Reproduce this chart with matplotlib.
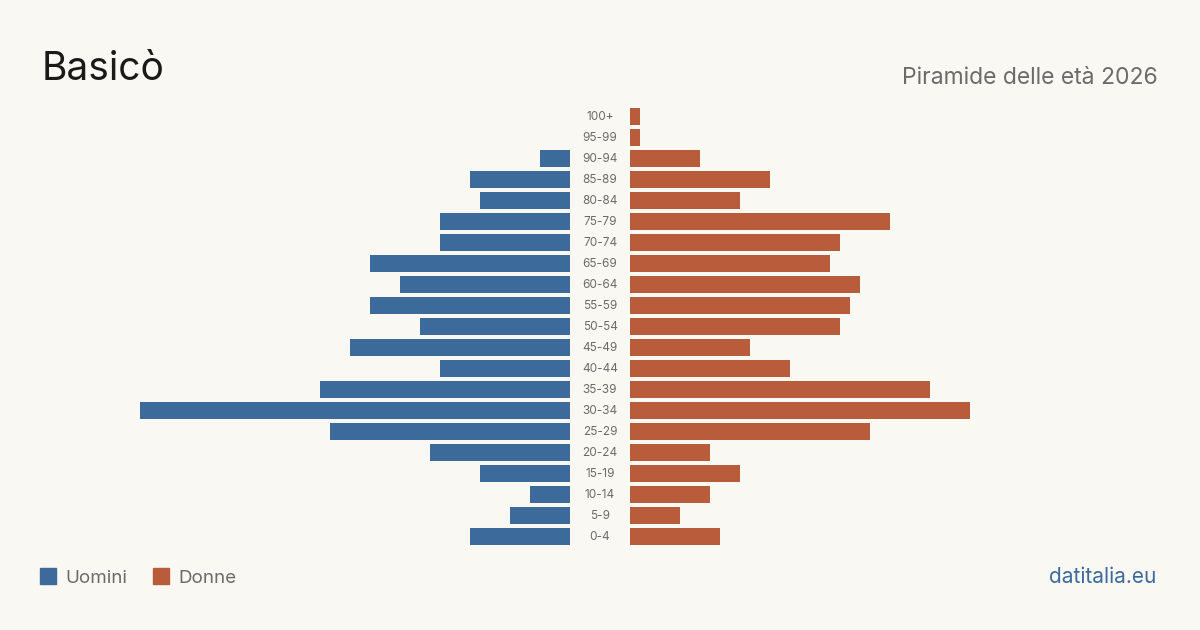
import matplotlib.pyplot as plt
from matplotlib.patches import Rectangle

plt.rcParams['font.family'] = ['Inter', 'DejaVu Sans']

age_groups = ["0-4", "5-9", "10-14", "15-19", "20-24", "25-29", "30-34", "35-39",
              "40-44", "45-49", "50-54", "55-59", "60-64", "65-69", "70-74", "75-79",
              "80-84", "85-89", "90-94", "95-99", "100+"]
men = [10, 6, 4, 9, 14, 24, 43, 25, 13, 22, 15, 20, 17, 20, 13, 13, 9, 10, 3, 0, 0]
women = [9, 5, 8, 11, 8, 24, 34, 30, 16, 12, 21, 22, 23, 20, 21, 26, 11, 14, 7, 1, 1]

bg = "#f9f8f3"
blue = "#3b6a9b"
orange = "#b95c3b"
grey = "#6b6b6b"

fig = plt.figure(figsize=(12, 6.3), dpi=100, facecolor=bg)
ax = fig.add_axes([0, 0, 1, 1])
ax.set_facecolor(bg)
ax.set_xlim(-60, 60)
ax.set_ylim(-4.43, 25.57)
ax.axis("off")

gap = 3
ypos = list(range(len(age_groups)))
ax.barh(ypos, men, left=[-gap - m for m in men], height=0.81, color=blue)
ax.barh(ypos, women, left=gap, height=0.81, color=orange)
for y, lab in zip(ypos, age_groups):
    ax.text(0, y, lab, ha="center", va="center", fontsize=8.5, color=grey)

fig.text(42 / 1200, 1 - 80 / 630, "Basicò", fontsize=28, color="#1a1a1a",
         ha="left", va="baseline")
fig.text(1158 / 1200, 1 - 84 / 630, "Piramide delle età 2026", fontsize=16.5,
         color=grey, ha="right", va="baseline")

# legend
for x0, col, lab in [(40, blue, "Uomini"), (153, orange, "Donne")]:
    fig.patches.append(Rectangle((x0 / 1200, 1 - 584 / 630), 16 / 1200, 16 / 630,
                                 transform=fig.transFigure, color=col))
    fig.text((x0 + 25) / 1200, 1 - 583 / 630, lab, fontsize=13.5, color=grey,
             ha="left", va="baseline")
fig.text(1156 / 1200, 1 - 583 / 630, "datitalia.eu", fontsize=15, color=blue,
         ha="right", va="baseline")

fig.savefig("out.png", dpi=100, facecolor=bg)
